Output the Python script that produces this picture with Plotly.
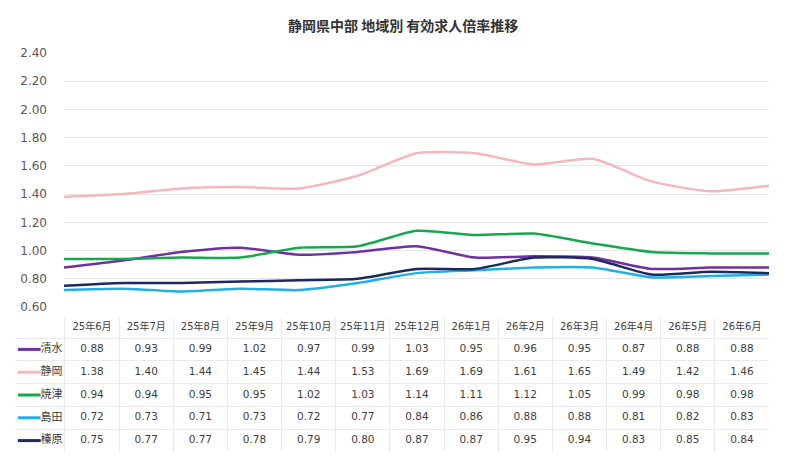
import plotly.graph_objects as go

# 有効求人倍率 (静岡県中部, 地域別)
months = ["25年6月", "25年7月", "25年8月", "25年9月", "25年10月", "25年11月", "25年12月",
          "26年1月", "26年2月", "26年3月", "26年4月", "26年5月", "26年6月"]
regions = ["清水", "静岡", "焼津", "島田", "榛原"]

shimizu = [0.88, 0.93, 0.99, 1.02, 0.97, 0.99, 1.03, 0.95, 0.96, 0.95, 0.87, 0.88, 0.88]
shizuoka = [1.38, 1.40, 1.44, 1.45, 1.44, 1.53, 1.69, 1.69, 1.61, 1.65, 1.49, 1.42, 1.46]
yaizu = [0.94, 0.94, 0.95, 0.95, 1.02, 1.03, 1.14, 1.11, 1.12, 1.05, 0.99, 0.98, 0.98]
shimada = [0.72, 0.73, 0.71, 0.73, 0.72, 0.77, 0.84, 0.86, 0.88, 0.88, 0.81, 0.82, 0.83]
haibara = [0.75, 0.77, 0.77, 0.78, 0.79, 0.80, 0.87, 0.87, 0.95, 0.94, 0.83, 0.85, 0.84]

series = [shimizu, shizuoka, yaizu, shimada, haibara]
colors = ["#7030A0", "#F4B8BC", "#16A84E", "#1FB0E6", "#1B2A5E"]

W, H = 800, 466
font_fam = "DejaVu Sans, Noto Sans CJK JP, sans-serif"
txt_col = "#404040"
border = "#ebebeb"

fig = go.Figure()

# line chart
for name, vals, col in zip(regions, series, colors):
    fig.add_trace(go.Scatter(x=months, y=vals, name=name, mode="lines",
                             line=dict(color=col, width=2.5, shape="spline", smoothing=0.6),
                             showlegend=False, hoverinfo="skip"))

# data table drawn on a second pair of axes: column i centred at x=i, row r centred at y=r+0.5
n = len(months)
cols_idx = list(range(n))
fig.add_trace(go.Scatter(x=cols_idx, y=[-0.44] * n, text=months, mode="text",
                         textfont=dict(family=font_fam, size=10, color=txt_col),
                         xaxis="x2", yaxis="y2", showlegend=False, hoverinfo="skip"))
for r, (name, vals, col) in enumerate(zip(regions, series, colors)):
    fig.add_trace(go.Scatter(x=cols_idx, y=[r + 0.5] * n, text=[f"{v:.2f}" for v in vals],
                             mode="text", textfont=dict(family=font_fam, size=10.5, color=txt_col),
                             xaxis="x2", yaxis="y2", showlegend=False, hoverinfo="skip"))
    # legend key + region name in the first column
    fig.add_trace(go.Scatter(x=[-1.37, -0.95], y=[r + 0.5, r + 0.5], mode="lines",
                             line=dict(color=col, width=3), xaxis="x2", yaxis="y2",
                             showlegend=False, hoverinfo="skip"))
    fig.add_trace(go.Scatter(x=[-0.95], y=[r + 0.5], text=[name], mode="text",
                             textposition="middle right",
                             textfont=dict(family="Noto Sans CJK JP", size=11, color=txt_col),
                             xaxis="x2", yaxis="y2", showlegend=False, hoverinfo="skip"))

fig.add_annotation(text="<b>静岡県中部 地域別 有効求人倍率推移</b>", xref="paper", yref="paper",
                   x=403 / W, y=1 - 25 / H, xanchor="center", yanchor="middle", showarrow=False,
                   font=dict(family="Noto Sans CJK JP", size=14, color="#333333"))

fig.update_layout(
    width=W, height=H, autosize=False,
    margin=dict(l=0, r=0, t=0, b=0, pad=0, autoexpand=False),
    paper_bgcolor="white", plot_bgcolor="white",
    xaxis=dict(domain=[64 / W, 769 / W], type="category", range=[0, 12],
               showticklabels=False, showgrid=False, zeroline=False, showline=False, ticks=""),
    yaxis=dict(domain=[1 - 307 / H, 1 - 53 / H], range=[0.6, 2.4], dtick=0.2, tickformat=".2f",
               showgrid=True, gridcolor="#e6e6e6", gridwidth=1, zeroline=False, showline=False,
               ticks="", ticklabelstandoff=16,
               tickfont=dict(family=font_fam, size=12, color="#595959")),
    xaxis2=dict(domain=[15 / W, 769 / W], range=[-1.423, n - 0.5], anchor="y2",
                tickvals=[i - 0.5 for i in range(n + 1)], showticklabels=False,
                showgrid=True, gridcolor=border, zeroline=False, showline=False, ticks=""),
    yaxis2=dict(domain=[1 - 452 / H, 1 - 318 / H], range=[5, -0.877], anchor="x2",
                tickvals=list(range(6)), showticklabels=False,
                showgrid=True, gridcolor=border, zeroline=False, showline=False, ticks=""),
)

fig.write_html("out.html", config={"displayModeBar": False},
               post_script="document.body.style.margin='0';")
